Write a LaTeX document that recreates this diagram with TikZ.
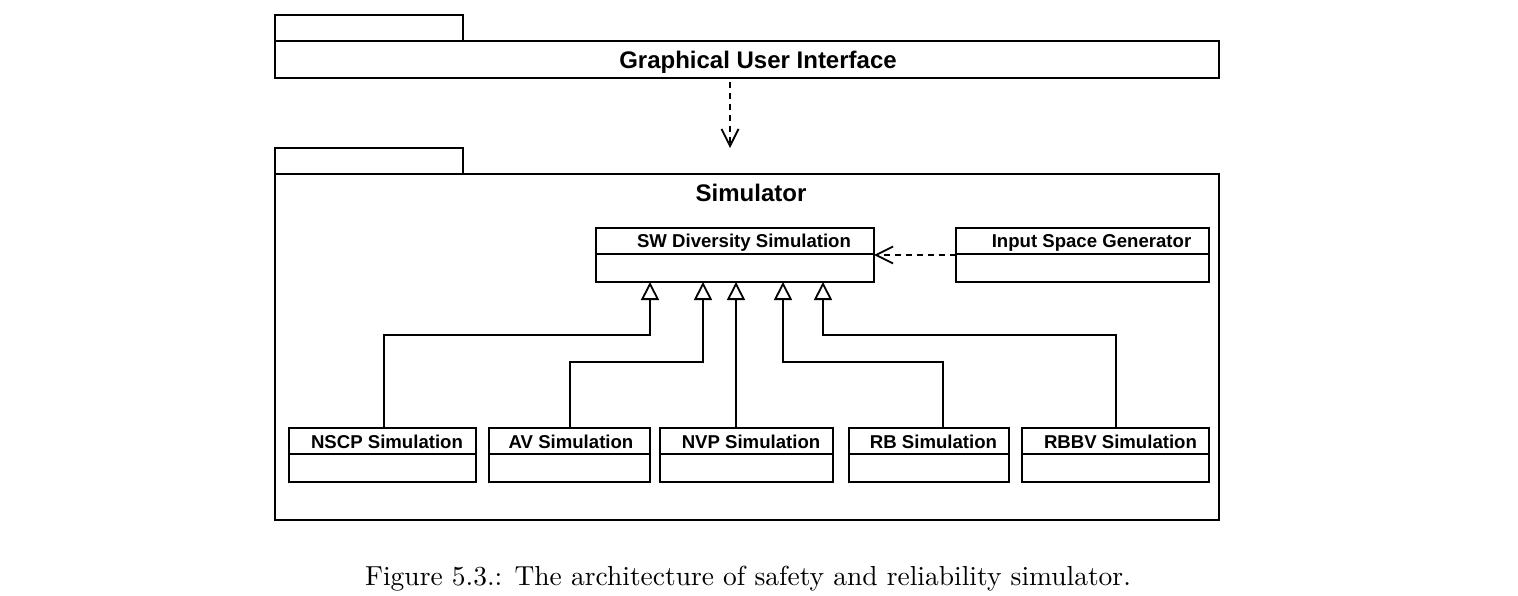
\documentclass[tikz,border=0pt]{standalone}
\usepackage{fontspec}
\newfontfamily\umlfont{Liberation Sans}
\usetikzlibrary{arrows.meta,calc}
\begin{document}
\begin{tikzpicture}[x=1pt,y=-1pt,
  box/.style={draw,line width=1.8pt,inner sep=0pt,outer sep=0pt,anchor=north west},
  pkgname/.style={anchor=base,inner sep=0pt,font=\umlfont\bfseries\fontsize{24}{28}\selectfont},
  clsname/.style={anchor=base,inner sep=0pt,font=\umlfont\bfseries\fontsize{18.6}{22}\selectfont},
  gen/.style={line width=1.8pt,-{Triangle[open,length=18pt,width=18pt,line width=1.8pt]}},
  dep/.style={line width=1.8pt,dash pattern=on 6pt off 5pt,-{Straight Barb[length=17pt,width=17pt,line width=1.8pt]}},
  divider/.style={line width=1.8pt}]
\useasboundingbox (0,0) rectangle (1518,596);
% packages
\node[box,minimum width=188pt,minimum height=26pt] (guitab) at (275,15) {};
\node[box,minimum width=944pt,minimum height=37pt] (gui) at (275,41) {};
\node[pkgname] (guiname) at (758,68.5) {Graphical User Interface};
\node[box,minimum width=188pt,minimum height=26pt] (simtab) at (275,148) {};
\node[box,minimum width=944pt,minimum height=346pt] (sim) at (275,174) {};
\node[pkgname] (simname) at (751,201.5) {Simulator};
% classes
\node[box,minimum width=278pt,minimum height=54pt] (sw) at (596,228) {};
\node[clsname] (swname) at (744,247.5) {SW Diversity Simulation};
\node[box,minimum width=253pt,minimum height=54pt] (isg) at (956,228) {};
\node[clsname] (isgname) at (1091.5,247.5) {Input Space Generator};
\node[box,minimum width=187pt,minimum height=54pt] (nscp) at (289,428) {};
\node[clsname] (nscpname) at (387,448) {NSCP Simulation};
\node[box,minimum width=161pt,minimum height=54pt] (av) at (489,428) {};
\node[clsname] (avname) at (571,448) {AV Simulation};
\node[box,minimum width=173pt,minimum height=54pt] (nvp) at (660,428) {};
\node[clsname] (nvpname) at (751,448) {NVP Simulation};
\node[box,minimum width=160pt,minimum height=54pt] (rb) at (849,428) {};
\node[clsname] (rbname) at (933.5,448) {RB Simulation};
\node[box,minimum width=187pt,minimum height=54pt] (rbbv) at (1022,428) {};
\node[clsname] (rbbvname) at (1120.5,448) {RBBV Simulation};
% dividers
\foreach \c in {sw,isg,nscp,av,nvp,rb,rbbv}{
  \draw[divider] ($(\c.north west)+(0,26)$) -- ($(\c.north east)+(0,26)$);
}
% connector points
\coordinate (t1) at ([xshift=54pt]sw.south west);
\coordinate (t2) at ([xshift=107pt]sw.south west);
\coordinate (t3) at ([xshift=140pt]sw.south west);
\coordinate (t4) at ([xshift=187pt]sw.south west);
\coordinate (t5) at ([xshift=227pt]sw.south west);
\coordinate (h1) at (0,335);
\coordinate (h2) at (0,362);
\coordinate (depend) at (730,148);
% generalisations
\draw[gen] ([xshift=95pt]nscp.north west) |- (t1 |- h1) -- (t1);
\draw[gen] ([xshift=81pt]av.north west) |- (t2 |- h2) -- (t2);
\draw[gen] (nvp.north -| t3) -- (t3);
\draw[gen] ([xshift=94pt]rb.north west) |- (t4 |- h2) -- (t4);
\draw[gen] ([xshift=94pt]rbbv.north west) |- (t5 |- h1) -- (t5);
% dependencies
\draw[dep] (isg.west) -- (sw.east);
\draw[dep,shorten <=4pt] (gui.south -| depend) -- (depend);
% caption
\node[anchor=base,inner sep=0pt,font=\fontsize{10}{12}\selectfont] (caption) at (748,585) {\scalebox{2.75}{Figure 5.3.: The architecture of safety and reliability simulator.}};
\end{tikzpicture}
\end{document}
